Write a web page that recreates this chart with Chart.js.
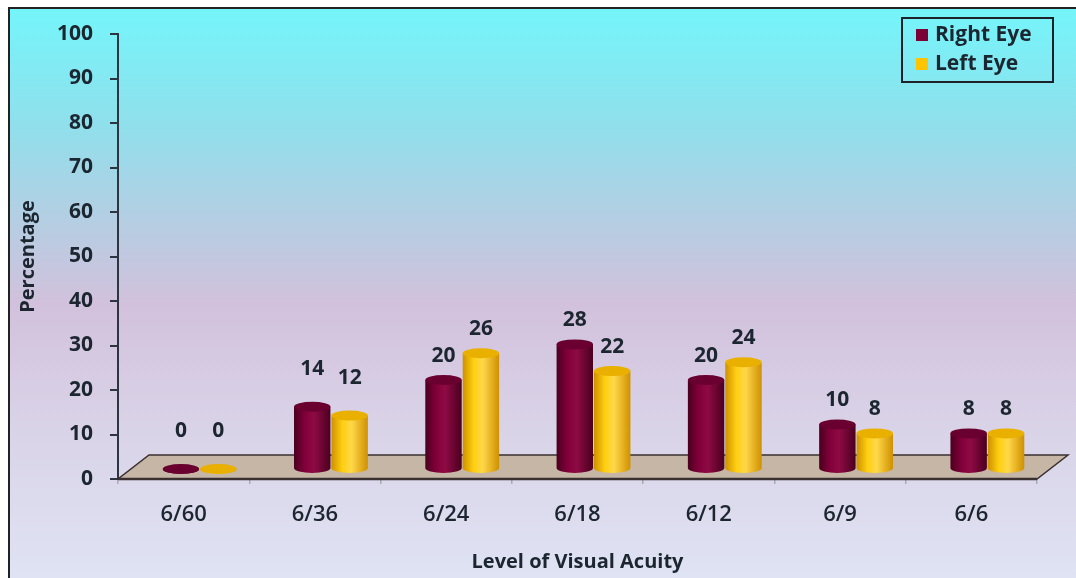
<!DOCTYPE html>
<html>
<head>
<meta charset="utf-8">
<script src="https://cdn.jsdelivr.net/npm/chart.js@4.4.1/dist/chart.umd.min.js"></script>
<style>
  html, body { margin: 0; padding: 0; background: #fff; }
  #wrap { width: 1076px; height: 578px; }
</style>
</head>
<body>
<div id="wrap"><canvas id="acuity-chart" width="1076" height="578"></canvas></div>
<script>
const categories = ['6/60', '6/36', '6/24', '6/18', '6/12', '6/9', '6/6'];
const rightEye = [0, 14, 20, 28, 20, 10, 8];
const leftEye = [0, 12, 26, 22, 24, 8, 8];
const yTicks = [0, 10, 20, 30, 40, 50, 60, 70, 80, 90, 100];

const FONT = '"Open Sans", Lato, sans-serif';
const INK = '#1c2630';
// depth of the 3D floor, bars sit half way back
const DEPTH_X = 31, DEPTH_Y = 24;
const BAR_DX = 16, BAR_DY = -10;

const colors = {
    right: { dark: '#4a001f', mid: '#82003a', light: '#8e0a44', top: '#690030' },
    left: { dark: '#cf9000', mid: '#ffcf10', light: '#ffd84a', top: '#eab000' }
};

function drawCylinder(ctx, cx, top, base, w, c) {
    const rx = w / 2, ry = 5;
    const left = cx - rx, right = cx + rx;
    const g = ctx.createLinearGradient(left, 0, right, 0);
    g.addColorStop(0, c.dark);
    g.addColorStop(0.3, c.mid);
    g.addColorStop(0.55, c.light);
    g.addColorStop(1, c.dark);
    ctx.fillStyle = g;
    ctx.beginPath();
    ctx.moveTo(left, top);
    ctx.lineTo(left, base);
    ctx.ellipse(cx, base, rx, ry, 0, Math.PI, 0, true);
    ctx.lineTo(right, top);
    ctx.closePath();
    ctx.fill();
    ctx.fillStyle = c.top;
    ctx.beginPath();
    ctx.ellipse(cx, top, rx, ry, 0, 0, Math.PI * 2);
    ctx.fill();
}

const scenePlugin = {
    id: 'scene',
    beforeDraw(chart) {
        const ctx = chart.ctx;
        const W = chart.width, H = chart.height;
        ctx.save();
        ctx.fillStyle = '#fff';
        ctx.fillRect(0, 0, W, H);
        const bg = ctx.createLinearGradient(0, 8, 0, H);
        bg.addColorStop(0, '#74f5fa');
        bg.addColorStop(0.2, '#8fe0ec');
        bg.addColorStop(0.36, '#b2cfe3');
        bg.addColorStop(0.52, '#d2c1dc');
        bg.addColorStop(0.72, '#d9d2e7');
        bg.addColorStop(1, '#dfe3f3');
        ctx.fillStyle = bg;
        ctx.fillRect(9, 8, W, H);
        ctx.strokeStyle = '#222';
        ctx.lineWidth = 2;
        ctx.beginPath();
        ctx.moveTo(9, H);
        ctx.lineTo(9, 8);
        ctx.lineTo(W, 8);
        ctx.stroke();
        ctx.restore();
    },
    beforeDatasetsDraw(chart) {
        const ctx = chart.ctx;
        const a = chart.chartArea;
        ctx.save();
        ctx.fillStyle = '#c6b6a6';
        ctx.strokeStyle = '#3a3030';
        ctx.lineWidth = 1.5;
        ctx.beginPath();
        ctx.moveTo(a.left, a.bottom);
        ctx.lineTo(a.right, a.bottom);
        ctx.lineTo(a.right + DEPTH_X, a.bottom - DEPTH_Y);
        ctx.lineTo(a.left + DEPTH_X, a.bottom - DEPTH_Y);
        ctx.closePath();
        ctx.fill();
        ctx.stroke();
        ctx.lineWidth = 2.5;
        ctx.beginPath();
        ctx.moveTo(a.left, a.bottom);
        ctx.lineTo(a.right, a.bottom);
        ctx.stroke();
        ctx.restore();
    },
    afterDatasetsDraw(chart) {
        const ctx = chart.ctx;
        ctx.save();
        const metas = [chart.getDatasetMeta(0), chart.getDatasetMeta(1)];
        const pal = [colors.right, colors.left];
        for (let i = 0; i < categories.length; i++) {
            metas.forEach((meta, d) => {
                const el = meta.data[i];
                const p = el.getProps(['x', 'y', 'base', 'width'], true);
                drawCylinder(ctx, p.x + BAR_DX, p.y + BAR_DY, p.base + BAR_DY, p.width - 1, pal[d]);
            });
        }
        ctx.fillStyle = INK;
        ctx.font = 'bold 21px ' + FONT;
        ctx.textAlign = 'center';
        ctx.textBaseline = 'middle';
        metas.forEach((meta, d) => {
            const values = chart.data.datasets[d].data;
            meta.data.forEach((el, i) => {
                const p = el.getProps(['x', 'y'], true);
                const lift = i < 2 ? 38 : 24;
                ctx.fillText(String(values[i]), p.x + BAR_DX, p.y + BAR_DY - lift);
            });
        });
        ctx.restore();
    },
    afterDraw(chart) {
        const ctx = chart.ctx;
        ctx.save();
        ctx.strokeStyle = '#1d2228';
        ctx.lineWidth = 2;
        ctx.strokeRect(902, 18, 151, 64);
        const items = [[chart.data.datasets[0].label, '#7a0035'], [chart.data.datasets[1].label, '#ffc400']];
        ctx.font = 'bold 21px ' + FONT;
        ctx.textBaseline = 'middle';
        ctx.textAlign = 'left';
        items.forEach((it, k) => {
            const cy = 35 + k * 29;
            ctx.fillStyle = it[1];
            ctx.fillRect(916, cy - 6, 12, 12);
            ctx.fillStyle = INK;
            ctx.fillText(it[0], 935, cy);
        });
        ctx.restore();
    }
};

const ctx = document.getElementById('acuity-chart').getContext('2d');
const chart = new Chart(ctx, {
    type: 'bar',
    data: {
        labels: categories,
        datasets: [
            { label: 'Right Eye', data: rightEye, backgroundColor: 'rgba(0,0,0,0)', borderWidth: 0 },
            { label: 'Left Eye', data: leftEye, backgroundColor: 'rgba(0,0,0,0)', borderWidth: 0 }
        ]
    },
    options: {
        responsive: false,
        animation: false,
        layout: { padding: { left: 12, top: 34, right: 39, bottom: 0 } },
        categoryPercentage: 0.57,
        barPercentage: 1.0,
        plugins: {
            legend: { display: false },
            tooltip: { enabled: false }
        },
        scales: {
            y: {
                min: 0,
                max: 100,
                afterBuildTicks(scale) {
                    scale.ticks = yTicks.map(v => ({ value: v }));
                },
                afterFit(scale) { scale.width = 106; },
                border: { display: true, color: '#2c3540', width: 2 },
                grid: { drawOnChartArea: false, drawTicks: true, tickLength: 8, color: '#2c3540', lineWidth: 2 },
                ticks: { color: INK, padding: 17, font: { family: FONT, size: 21, weight: 'bold' } },
                title: { display: true, text: 'Percentage', color: INK, font: { family: FONT, size: 20, weight: 'bold' }, padding: { top: 4, bottom: 4 } }
            },
            x: {
                afterFit(scale) { scale.height = 99; },
                border: { display: false },
                grid: { offset: true, drawOnChartArea: false, drawTicks: true, tickLength: 5, color: '#a8acb8', lineWidth: 1.5 },
                ticks: { color: INK, padding: 18, font: { family: FONT, size: 22, weight: '600' } },
                title: { display: true, text: 'Level of Visual Acuity', color: INK, font: { family: FONT, size: 20, weight: 'bold' }, padding: { top: 4, bottom: 4 } }
            }
        }
    },
    plugins: [scenePlugin]
});
</script>
</body>
</html>
